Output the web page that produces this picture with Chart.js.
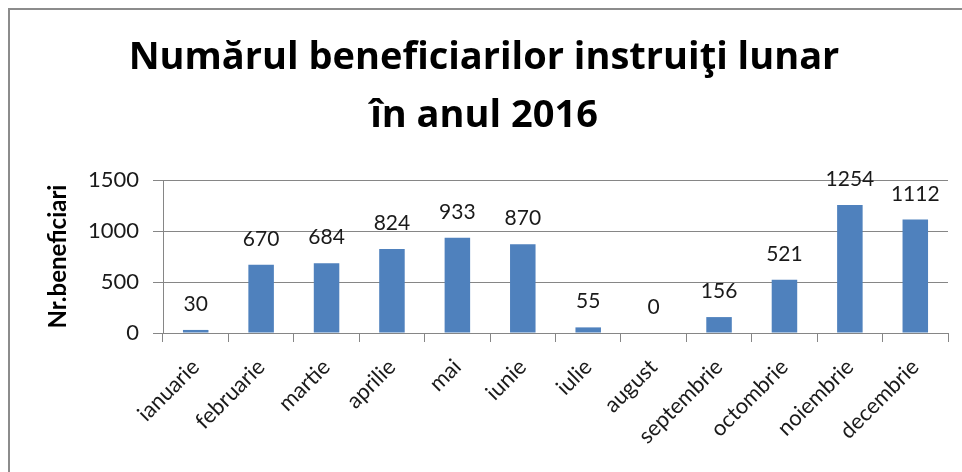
<!DOCTYPE html>
<html>
<head>
<meta charset="utf-8">
<script src="https://cdn.jsdelivr.net/npm/chart.js@4/dist/chart.umd.min.js"></script>
<style>
  html, body { margin: 0; padding: 0; background: #fff; }
  #wrap { position: relative; width: 962px; height: 472px; }
  #frame { position: absolute; left: 8px; top: 8px; right: 0; bottom: 0;
           border-left: 2px solid #8c8c8c; border-top: 2px solid #8c8c8c; pointer-events: none; }
  canvas { position: absolute; left: 0; top: 0; }
</style>
</head>
<body>
<div id="wrap">
  <canvas id="c" width="962" height="472"></canvas>
  <div id="frame"></div>
</div>
<script>
const categories = ["ianuarie", "februarie", "martie", "aprilie", "mai", "iunie", "iulie", "august", "septembrie", "octombrie", "noiembrie", "decembrie"];
const beneficiari = [30, 670, 684, 824, 933, 870, 55, 0, 156, 521, 1254, 1112];
const yTicks = [0, 500, 1000, 1500];
const titleLines = ["Numărul beneficiarilor instruiţi lunar", "în anul 2016"];
const yTitle = "Nr.beneficiari";

const FONT = "Lato, 'Open Sans', sans-serif";
const TITLE_FONT = "'Open Sans', Lato, sans-serif";

const valueLabels = {
  id: 'valueLabels',
  afterDatasetsDraw(chart) {
    const ctx = chart.ctx;
    const meta = chart.getDatasetMeta(0);
    ctx.save();
    ctx.font = "21px " + FONT;
    ctx.fillStyle = "#1a1a1a";
    ctx.textAlign = "center";
    ctx.textBaseline = "alphabetic";
    meta.data.forEach((bar, i) => {
      ctx.fillText(String(chart.data.datasets[0].data[i]), bar.x, bar.y - 19);
    });
    ctx.restore();
  }
};

new Chart(document.getElementById('c'), {
  type: 'bar',
  data: {
    labels: categories,
    datasets: [{
      data: beneficiari,
      backgroundColor: '#4F81BD',
      borderWidth: 0,
      barPercentage: 0.39,
      categoryPercentage: 1.0
    }]
  },
  options: {
    responsive: false,
    animation: false,
    devicePixelRatio: 1,
    layout: { padding: { left: 20, right: 14, top: 8, bottom: 0 } },
    plugins: {
      legend: { display: false },
      tooltip: { enabled: false },
      title: {
        display: true,
        text: titleLines,
        color: '#000',
        font: { family: TITLE_FONT, size: 38, weight: 'bold', lineHeight: 58 / 38 },
        padding: { top: 21, bottom: 35 }
      }
    },
    scales: {
      x: {
        grid: { display: true, drawOnChartArea: false, drawTicks: true, tickLength: 9, color: '#868686', offset: true },
        border: { display: true, color: '#868686', width: 1 },
        ticks: {
          color: '#1a1a1a', font: { family: FONT, size: 22 },
          maxRotation: 45, minRotation: 45, autoSkip: false, padding: 12
        },
        afterFit(scale) { scale.height = 472 - 333; }
      },
      y: {
        min: 0, max: 1500,
        afterBuildTicks(scale) { scale.ticks = yTicks.map(v => ({ value: v })); },
        grid: { color: '#868686', tickLength: 10, drawTicks: true },
        border: { display: true, color: '#868686', width: 1 },
        ticks: {
          color: '#1a1a1a', font: { family: FONT, size: 22 }, padding: 14,
          callback: (v) => String(v)
        },
        title: {
          display: true, text: yTitle, color: '#000',
          font: { family: FONT, size: 24, weight: 'bold' },
          padding: { top: 24, bottom: 0 }
        },
        afterFit(scale) { scale.width = 163 - 20; }
      }
    }
  },
  plugins: [valueLabels]
});
</script>
</body>
</html>
